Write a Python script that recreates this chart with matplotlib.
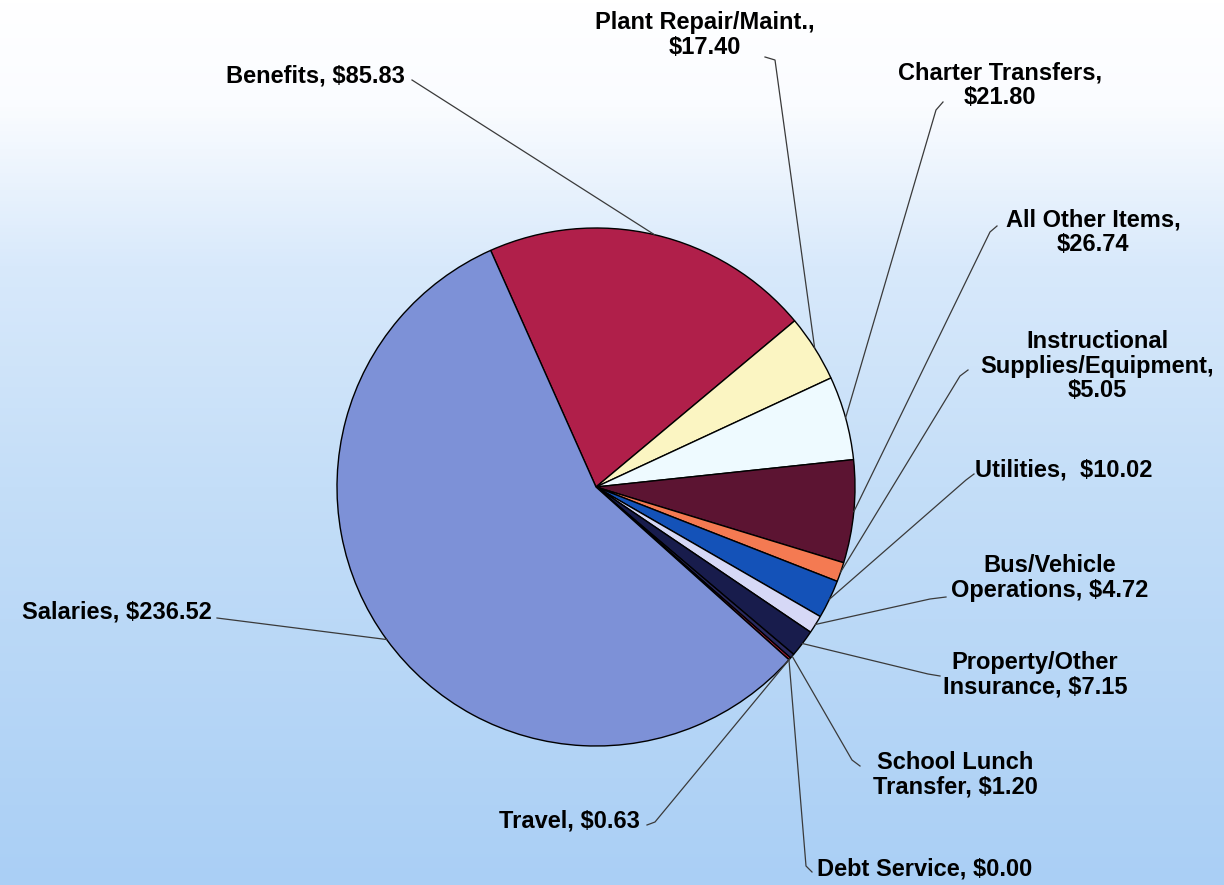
import numpy as np
import matplotlib.pyplot as plt
from matplotlib.colors import LinearSegmentedColormap

plt.rcParams['font.family'] = ['Liberation Sans', 'DejaVu Sans']

# data (in millions)
labels = ['Benefits, $85.83', 'Plant Repair/Maint.,\n$17.40', 'Charter Transfers,\n$21.80',
          'All Other Items,\n$26.74', 'Instructional\nSupplies/Equipment,\n$5.05',
          'Utilities,  $10.02', 'Bus/Vehicle\nOperations, $4.72', 'Property/Other\nInsurance, $7.15',
          'School Lunch\nTransfer, $1.20', 'Travel, $0.63', 'Debt Service, $0.00',
          'Salaries, $236.52']
values = [85.83, 17.40, 21.80, 26.74, 5.05, 10.02, 4.72, 7.15, 1.20, 0.63, 0.00, 236.52]
colors = ['#b01f4a', '#fbf5c2', '#eefaff', '#5c1432', '#f47a52', '#1452b8',
          '#d6d8f6', '#181c4c', '#2a2a60', '#c8203e', '#c8203e', '#7d91d7']

# label anchor (pixel x, pixel y from top), alignment, leader elbow
label_pos = [
    (405, 76, 'right', [(412, 80)]),
    (705, 35, 'center', [(765, 57), (775, 60)]),
    (1000, 85, 'center', [(943, 102), (936, 110)]),
    (1093, 232, 'center', [(997, 226), (990, 232)]),
    (1097, 366, 'center', [(968, 370), (960, 376)]),
    (975, 470, 'left', [(974, 474), (966, 480)]),
    (1050, 578, 'center', [(946, 597), (930, 599)]),
    (1035, 675, 'center', [(940, 676), (928, 674)]),
    (955, 775, 'center', [(860, 766), (852, 760)]),
    (640, 821, 'right', [(647, 825), (655, 822)]),
    (817, 869, 'left', [(812, 872), (806, 866)]),
    (212, 612, 'right', [(217, 618)]),
]

W, H = 1224, 885
cx, cy, r = 596, H - 487, 259

fig = plt.figure(figsize=(12.24, 8.85), dpi=100)
ax = fig.add_axes([0, 0, 1, 1])

# background gradient
bg = LinearSegmentedColormap.from_list('bg', [(0.0, '#aacff5'), (0.45, '#c4def8'),
                                               (0.7, '#d8e9fb'), (0.88, '#fafcff'), (1.0, '#ffffff')])
grad = np.linspace(0, 1, 256).reshape(-1, 1)
ax.imshow(grad, cmap=bg, extent=[0, W, 0, H], origin='lower', aspect='auto', zorder=0)

wedges, _ = ax.pie(values, colors=colors, startangle=114, counterclock=False,
                   center=(cx, cy), radius=r,
                   wedgeprops=dict(edgecolor='black', linewidth=1.0))
for w in wedges:
    w.set_zorder(2)

for w, lab, (lx, ly, ha, elbow) in zip(wedges, labels, label_pos):
    ang = np.deg2rad((w.theta1 + w.theta2) / 2)
    px, py = cx + r * np.cos(ang), cy + r * np.sin(ang)
    pts = [(x, H - y) for x, y in elbow] + [(px, py)]
    xs, ys = zip(*pts)
    ax.plot(xs, ys, color='#3a3a3a', lw=0.9, zorder=3)
    ax.text(lx, H - ly, lab, ha=ha, va='center', fontsize=17, fontweight='bold',
            color='black', linespacing=1.08, zorder=4)

ax.set_xlim(0, W)
ax.set_ylim(0, H)
ax.set_aspect('auto')
ax.axis('off')
fig.savefig('out.png', dpi=100)
